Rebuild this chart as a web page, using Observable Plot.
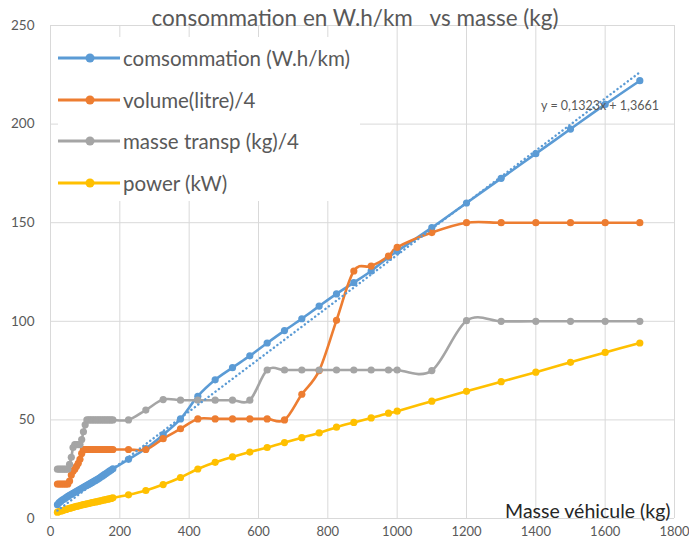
<!DOCTYPE html>
<html>
<head>
<meta charset="utf-8">
<script src="https://cdn.jsdelivr.net/npm/d3@7"></script>
<script src="https://cdn.jsdelivr.net/npm/@observablehq/plot@0.6"></script>
<style>
  html, body { margin: 0; padding: 0; background: #fff; }
  #wrap { position: relative; width: 689px; height: 541px; font-family: Lato, "Open Sans", sans-serif; }
  #title { position: absolute; left: 0; width: 710px; top: 4px; text-align: center; font-size: 22.5px; color: #595959; white-space: pre; }
  #legend { position: absolute; left: 58px; top: 37px; width: 302px; height: 164px; background: #fff; }
  .item { position: absolute; left: 0; height: 24px; display: flex; align-items: center; }
  .item span { font-size: 20.5px; color: #595959; margin-left: 3px; white-space: nowrap; }
</style>
</head>
<body>
<div id="wrap">
  <div id="chart"></div>
  <div id="legend"></div>
  <div id="title"></div>
</div>
<script>
const titleText = "consommation en W.h/km   vs masse (kg)";
const xLabel = "Masse véhicule (kg)";
const equationText = "y = 0,1323x + 1,3661";
const trendSlope = 0.1323;
const trendIntercept = 1.3661;

const seriesNames = ["comsommation (W.h/km)", "volume(litre)/4", "masse transp (kg)/4", "power (kW)"];
const seriesColors = ["#5b9bd5", "#ed7d31", "#a5a5a5", "#ffc000"];

const xTicks = [0, 200, 400, 600, 800, 1000, 1200, 1400, 1600, 1800];
const yTicks = [0, 50, 100, 150, 200, 250];

const masse = [
  20, 25, 30, 35, 40, 45, 50, 55, 60, 65, 70, 75, 80, 85, 90, 95, 100, 105, 110, 115,
  120, 125, 130, 135, 140, 145, 150, 155, 160, 165, 170, 175, 180,
  225, 275, 325, 375, 425, 475, 525, 575, 625, 675, 725, 775, 825, 875, 925, 975,
  1000, 1100, 1200, 1300, 1400, 1500, 1600, 1700
];

const consommation = [
  7, 8, 8.8, 9.5, 10, 10.6, 11.2, 11.8, 12.3, 12.8, 13.3, 13.8, 14.3, 14.8, 15.3, 15.8, 16.3, 16.8, 17.3, 17.8,
  18.3, 18.8, 19.3, 19.8, 20.4, 21, 21.6, 22.2, 22.8, 23.4, 24, 24.6, 25.2,
  30, 35.5, 42.5, 50.5, 62, 70.3, 76.5, 82.5, 89, 95.3, 101.3, 107.7, 113.9, 119.6, 125.5, 132.5,
  135.5, 147.5, 160, 172.5, 185, 197.5, 210, 222
];

const volume = [
  17.5, 17.5, 17.5, 17.5, 17.5, 17.5, 17.5, 19, 22, 24, 25, 26.5, 28, 30, 33, 35, 35, 35, 35, 35,
  35, 35, 35, 35, 35, 35, 35, 35, 35, 35, 35, 35, 35,
  35, 35, 40.5, 45.5, 50.5, 50.5, 50.5, 50.5, 50.5, 50, 63, 75, 100.5, 125.5, 128, 133,
  137.5, 145, 150, 150, 150, 150, 150, 150
];

const masseTransp = [
  25, 25, 25, 25, 25, 25, 25, 27.5, 31, 36, 37.5, 37.5, 37.5, 37.5, 40, 44, 47.5, 50, 50, 50,
  50, 50, 50, 50, 50, 50, 50, 50, 50, 50, 50, 50, 50,
  50, 55, 60.3, 60, 60, 60, 60, 60, 75.3, 75.3, 75.3, 75.3, 75.3, 75.3, 75.3, 75.3,
  75.3, 75, 100.3, 100, 100, 100, 100, 100
];

const power = [
  3.2, 3.5, 3.8, 4, 4.3, 4.6, 4.9, 5.1, 5.4, 5.6, 5.9, 6.1, 6.3, 6.6, 6.8, 7, 7.2, 7.4, 7.6, 7.8,
  8, 8.2, 8.4, 8.6, 8.8, 9, 9.2, 9.4, 9.6, 9.8, 10, 10.2, 10.5,
  12, 14.2, 17.2, 20.8, 25.1, 28.5, 31.2, 33.7, 36, 38.5, 41, 43.4, 46.3, 48.7, 51, 53.4,
  54.4, 59.5, 64.5, 69.4, 74.2, 79.2, 84.2, 89
];

const allSeries = [consommation, volume, masseTransp, power];
const rows = [];
allSeries.forEach((vals, si) => {
  vals.forEach((v, i) => rows.push({ serie: seriesNames[si], x: masse[i], y: v }));
});

const xMin = d3.min(masse), xMax = d3.max(masse);
const trend = [xMin, xMax].map(x => ({ x, y: trendSlope * x + trendIntercept }));

const color = { domain: seriesNames, range: seriesColors };
const font = "Lato, 'Open Sans', sans-serif";

const chart = Plot.plot({
  width: 689,
  height: 541,
  marginLeft: 50,
  marginRight: 15,
  marginTop: 25,
  marginBottom: 23,
  style: { fontFamily: font, fontSize: "13.5px", color: "#595959", background: "#fff" },
  x: { domain: [0, 1800], label: null },
  y: { domain: [0, 250], label: null },
  color,
  marks: [
    Plot.gridX(xTicks, { stroke: "#d9d9d9", strokeOpacity: 1, strokeWidth: 1 }),
    Plot.gridY(yTicks, { stroke: "#d9d9d9", strokeOpacity: 1, strokeWidth: 1 }),
    Plot.axisX({ ticks: xTicks, tickSize: 0, tickPadding: 8, fill: "#595959", fontSize: 13, tickFormat: d => String(d), label: null }),
    Plot.axisY({ ticks: yTicks, tickSize: 0, tickPadding: 16, fill: "#595959", fontSize: 13.5, tickFormat: d => String(d), label: null }),
    Plot.line(rows, { x: "x", y: "y", z: "serie", stroke: "serie", strokeWidth: 2.6, curve: "cardinal", tension: 0 }),
    Plot.dot(rows, { x: "x", y: "y", fill: "serie", r: 3.6 }),
    Plot.line(trend, { x: "x", y: "y", stroke: seriesColors[0], strokeWidth: 2.4, strokeDasharray: "0.1,4.2", strokeLinecap: "round" }),
    Plot.text([equationText], { x: () => 1585, y: () => 209, text: d => d, fill: "#595959", fontSize: 12.5 }),
    Plot.text([xLabel], { frameAnchor: "bottom-right", text: d => d, textAnchor: "end", lineAnchor: "bottom", dx: -4, dy: -1, fill: "#262626", fontSize: 19.5 })
  ]
});
document.getElementById("chart").appendChild(chart);

document.getElementById("title").textContent = titleText;

const legend = document.getElementById("legend");
const itemTops = [9, 51, 92, 134];
seriesNames.forEach((name, i) => {
  const item = document.createElement("div");
  item.className = "item";
  item.style.top = itemTops[i] + "px";
  const svg = d3.create("svg").attr("width", 62).attr("height", 24);
  svg.append("line").attr("x1", 0).attr("x2", 62).attr("y1", 12).attr("y2", 12)
    .attr("stroke", seriesColors[i]).attr("stroke-width", 3);
  svg.append("circle").attr("cx", 32).attr("cy", 12).attr("r", 4.5).attr("fill", seriesColors[i]);
  item.appendChild(svg.node());
  const span = document.createElement("span");
  span.textContent = name;
  item.appendChild(span);
  legend.appendChild(item);
});
</script>
</body>
</html>
